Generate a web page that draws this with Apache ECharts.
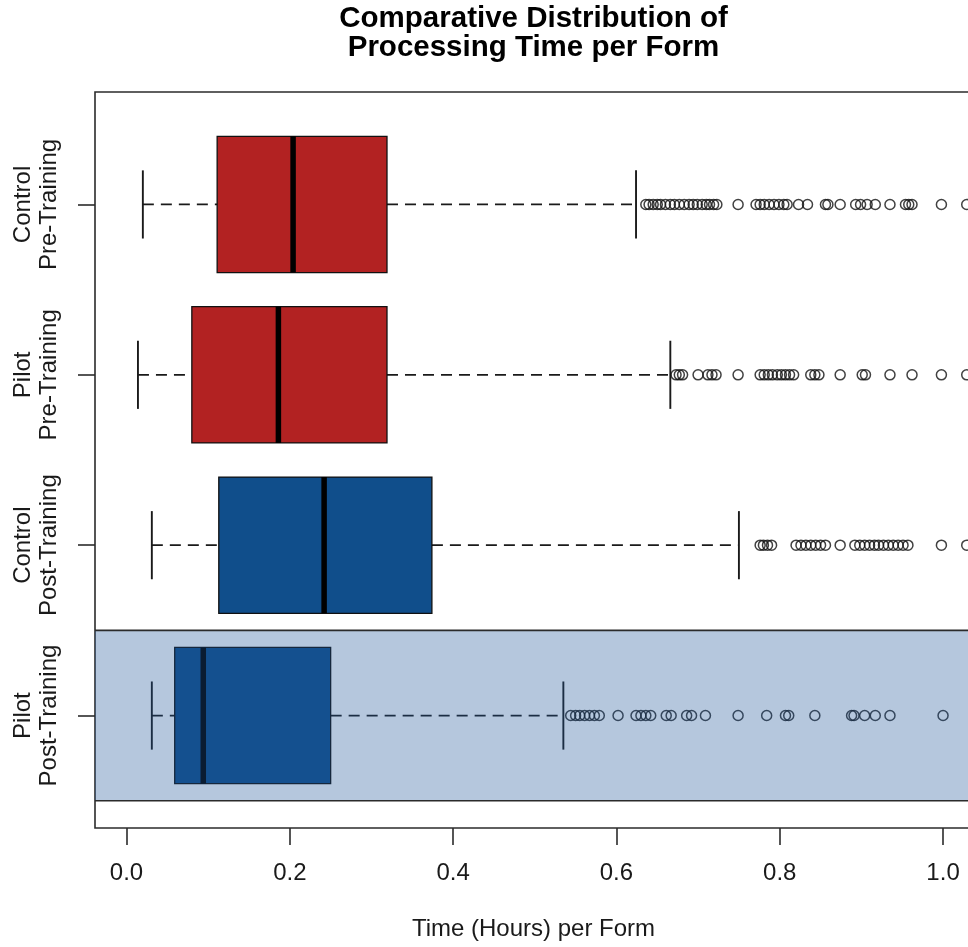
<!DOCTYPE html>
<html>
<head>
<meta charset="utf-8">
<script src="https://cdn.jsdelivr.net/npm/echarts@6/dist/echarts.min.js"></script>
<style>
html,body{margin:0;padding:0;background:#ffffff;}
#chart{width:968px;height:947px;}
</style>
</head>
<body>
<div id="chart"></div>
<script>
// ---------- data ----------
const categories = ['Control\nPre-Training', 'Pilot\nPre-Training', 'Control\nPost-Training', 'Pilot\nPost-Training'];
const whiskerLow  = [0.020, 0.014, 0.031, 0.031];
const q1          = [0.111, 0.080, 0.113, 0.059];
const median      = [0.204, 0.186, 0.242, 0.094];
const q3          = [0.319, 0.319, 0.374, 0.250];
const whiskerHigh = [0.624, 0.666, 0.750, 0.535];

const outliersControlPre = [0.636, 0.640, 0.645, 0.650, 0.654, 0.660, 0.666, 0.671, 0.677, 0.683, 0.689, 0.694, 0.699, 0.705, 0.710, 0.714, 0.719, 0.723,
  0.749, 0.771, 0.776, 0.781, 0.787, 0.793, 0.799, 0.805, 0.809, 0.823, 0.834, 0.856, 0.859, 0.874,
  0.893, 0.899, 0.907, 0.917, 0.935, 0.954, 0.958, 0.962, 0.998, 1.029];
const outliersPilotPre = [0.673, 0.677, 0.681, 0.700, 0.712, 0.717, 0.722, 0.749, 0.776, 0.781, 0.786, 0.791, 0.797, 0.802,
  0.807, 0.812, 0.817, 0.838, 0.843, 0.848, 0.874, 0.901, 0.905, 0.935, 0.962, 0.998, 1.029];
const outliersControlPost = [0.776, 0.780, 0.785, 0.790, 0.820, 0.826, 0.832, 0.838, 0.844, 0.850, 0.856, 0.874,
  0.892, 0.898, 0.904, 0.910, 0.916, 0.921, 0.927, 0.933, 0.939, 0.945, 0.951, 0.957, 0.998, 1.029];
const outliersPilotPost = [0.544, 0.550, 0.555, 0.561, 0.567, 0.573, 0.579, 0.602, 0.624, 0.630, 0.636, 0.642, 0.661, 0.667,
  0.686, 0.692, 0.709, 0.749, 0.784, 0.807, 0.811, 0.843, 0.888, 0.891, 0.904, 0.917, 0.935, 1.000];
const outlierGroups = [outliersControlPre, outliersPilotPre, outliersControlPost, outliersPilotPost];

const xTicks = [0.0, 0.2, 0.4, 0.6, 0.8, 1.0];
const highlightedCategory = 'Pilot\nPost-Training';

const titleText = 'Comparative Distribution of\nProcessing Time per Form';
const xAxisTitle = 'Time (Hours) per Form';

// ---------- styling ----------
const FONT = "'Liberation Sans', Arial, Helvetica, sans-serif";
const boxFills = ['#B22222', '#B22222', '#104E8B', '#104E8B'];

const positions = categories.map((c, i) => i + 1);
const boxData = categories.map((c, i) => [positions[i], whiskerLow[i], q1[i], median[i], q3[i], whiskerHigh[i]]);
const outlierData = [];
outlierGroups.forEach((arr, i) => arr.forEach(v => outlierData.push([v, positions[i]])));
const hiIdx = categories.indexOf(highlightedCategory);
const bandData = [[positions[hiIdx] - 0.5, positions[hiIdx] + 0.5]];

function renderBox(params, api) {
  const pos = api.value(0);
  const lo = api.coord([api.value(1), pos]);
  const b1 = api.coord([api.value(2), pos]);
  const md = api.coord([api.value(3), pos]);
  const b3 = api.coord([api.value(4), pos]);
  const hi = api.coord([api.value(5), pos]);
  const half = Math.abs(api.size([0, 0.4])[1]);
  const capHalf = Math.abs(api.size([0, 0.2])[1]);
  const y = lo[1];
  const whisk = {stroke: '#1a1a1a', lineWidth: 1.8, lineDash: [11, 7]};
  const cap = {stroke: '#1a1a1a', lineWidth: 1.9};
  return {
    type: 'group',
    children: [
      {type: 'line', shape: {x1: lo[0], y1: y, x2: b1[0], y2: y}, style: whisk},
      {type: 'line', shape: {x1: b3[0], y1: y, x2: hi[0], y2: y}, style: whisk},
      {type: 'line', shape: {x1: lo[0], y1: y - capHalf, x2: lo[0], y2: y + capHalf}, style: cap},
      {type: 'line', shape: {x1: hi[0], y1: y - capHalf, x2: hi[0], y2: y + capHalf}, style: cap},
      {type: 'rect', shape: {x: b1[0], y: y - half, width: b3[0] - b1[0], height: 2 * half},
        style: {fill: boxFills[params.dataIndex], stroke: '#111', lineWidth: 1.3}},
      {type: 'line', shape: {x1: md[0], y1: y - half, x2: md[0], y2: y + half},
        style: {stroke: '#000', lineWidth: 5.5}}
    ]
  };
}

function renderBand(params, api) {
  const cs = params.coordSys;
  const yA = api.coord([0, api.value(0)])[1];
  const yB = api.coord([0, api.value(1)])[1];
  const top = Math.min(yA, yB), bot = Math.max(yA, yB);
  return {
    type: 'group',
    children: [
      {type: 'rect', shape: {x: cs.x, y: top, width: cs.width, height: bot - top},
        style: {fill: 'rgba(31,85,152,0.33)'}},
      {type: 'line', shape: {x1: cs.x, y1: top, x2: cs.x + cs.width, y2: top}, style: {stroke: '#2b2b2b', lineWidth: 1.6}},
      {type: 'line', shape: {x1: cs.x, y1: bot, x2: cs.x + cs.width, y2: bot}, style: {stroke: '#2b2b2b', lineWidth: 1.6}}
    ]
  };
}

const chart = echarts.init(document.getElementById('chart'), null, {renderer: 'canvas'});
chart.setOption({
  animation: false,
  backgroundColor: '#ffffff',
  title: [
    {text: titleText, left: 533.5, top: 5, textAlign: 'center', padding: 0,
      textStyle: {fontFamily: FONT, fontSize: 29.5, fontWeight: 'bold', lineHeight: 28.3, color: '#000'}},
    {text: xAxisTitle, left: 533.5, top: 917, textAlign: 'center', padding: 0,
      textStyle: {fontFamily: FONT, fontSize: 24, fontWeight: 'normal', lineHeight: 24, color: '#1a1a1a'}}
  ],
  grid: {left: 95, top: 92, width: 929.7, height: 736, show: true, borderColor: '#2b2b2b', borderWidth: 1.6,
    backgroundColor: 'transparent', containLabel: false, outerBoundsMode: 'none'},
  xAxis: {
    type: 'value', min: -0.0386, max: 1.1,
    axisLine: {show: false, onZero: false},
    splitLine: {show: false},
    axisTick: {show: true, customValues: xTicks, length: 17, lineStyle: {color: '#2b2b2b', width: 1.6}},
    axisLabel: {show: true, customValues: xTicks, formatter: v => Number(v).toFixed(1), margin: 33,
      fontFamily: FONT, fontSize: 24, lineHeight: 24, color: '#1a1a1a'}
  },
  yAxis: {
    type: 'value', inverse: true, min: 0.34, max: 4.66,
    axisLine: {show: false, onZero: false},
    splitLine: {show: false},
    axisTick: {show: true, customValues: positions, length: 17, lineStyle: {color: '#2b2b2b', width: 1.6}},
    axisLabel: {show: true, customValues: positions, rotate: 90, margin: 33,
      formatter: v => categories[Math.round(v) - 1],
      fontFamily: FONT, fontSize: 24, lineHeight: 26, color: '#1a1a1a'}
  },
  series: [
    {type: 'custom', name: 'boxes', renderItem: renderBox, data: boxData, z: 2, silent: true,
      encode: {x: [1, 2, 3, 4, 5], y: 0}},
    {type: 'scatter', name: 'outliers', data: outlierData, symbol: 'circle', symbolSize: 10, z: 3, silent: true,
      itemStyle: {color: 'rgba(0,0,0,0)', borderColor: '#111', borderWidth: 1.5}},
    {type: 'custom', name: 'highlight', renderItem: renderBand, data: bandData, z: 5, silent: true,
      encode: {y: [0, 1]}}
  ]
});
</script>
</body>
</html>
